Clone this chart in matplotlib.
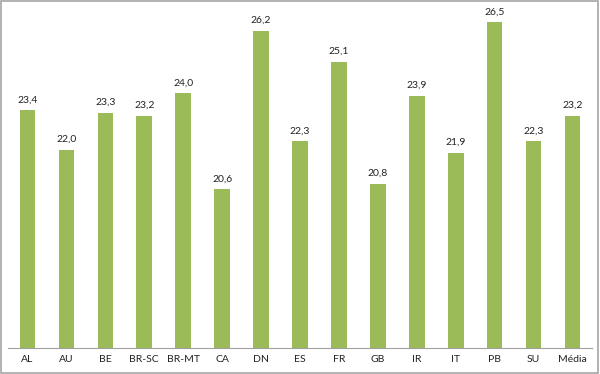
import matplotlib
matplotlib.use('Agg')
import matplotlib.pyplot as plt
from matplotlib.patches import Rectangle

plt.rcParams['font.family'] = ['Lato', 'DejaVu Sans']

# Dados
paises = ['AL', 'AU', 'BE', 'BR-SC', 'BR-MT', 'CA', 'DN', 'ES', 'FR', 'GB',
          'IR', 'IT', 'PB', 'SU', 'Média']
valores = [23.4, 22.0, 23.3, 23.2, 24.0, 20.6, 26.2, 22.3, 25.1, 20.8,
           23.9, 21.9, 26.5, 22.3, 23.2]

fig = plt.figure(figsize=(6.0, 3.74), dpi=100)
ax = fig.add_axes([8 / 600, 26 / 374, 584 / 600, 340 / 374])

x = range(len(paises))
bars = ax.bar(x, valores, width=0.4, color='#9BBB59', zorder=2)

# Rótulos de valor com vírgula decimal
for xi, v in zip(x, valores):
    ax.text(xi, v + 0.2, f'{v:.1f}'.replace('.', ','), ha='center', va='bottom',
            fontsize=7.5, color='#222222')

ax.set_xlim(-0.5, len(paises) - 0.5)
ax.set_ylim(15, 27)
ax.set_xticks(list(x))
ax.set_xticklabels(paises, fontsize=7.5, color='#222222')
ax.tick_params(axis='x', length=0, pad=5)
ax.set_yticks([])

for s in ['top', 'right', 'left']:
    ax.spines[s].set_visible(False)
ax.spines['bottom'].set_color('#A0A0A0')
ax.spines['bottom'].set_linewidth(0.8)

# Moldura do gráfico
fig.patches.append(Rectangle((0.002, 0.003), 0.995, 0.993, transform=fig.transFigure,
                             fill=False, edgecolor='#A6A6A6', linewidth=1.2))

fig.savefig('out.png', dpi=100)
